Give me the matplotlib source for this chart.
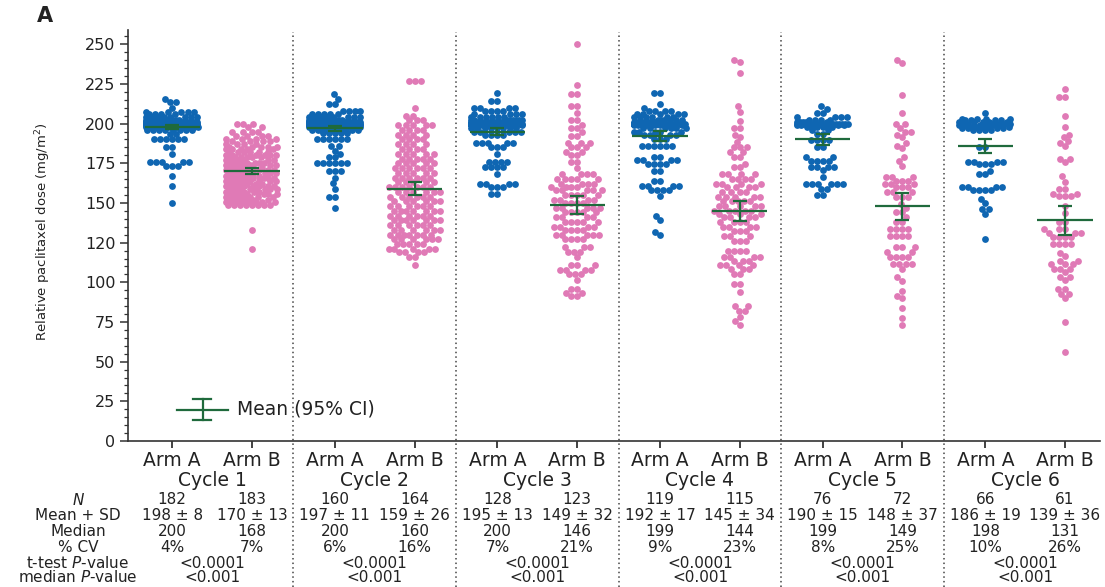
import numpy as np
import matplotlib
matplotlib.use("Agg")
import matplotlib.pyplot as plt
from matplotlib.ticker import MultipleLocator, FixedLocator
from matplotlib.transforms import blended_transform_factory

plt.rcParams['font.family'] = ['DejaVu Sans']
plt.rcParams['mathtext.fontset'] = 'dejavusans'

# relative paclitaxel dose per patient, stored as (dose mg/m2, number of patients)
cycle1_arm_a = [(150, 1), (161, 1), (167, 1), (173.5, 3), (176, 5), (181, 1), (185.5, 2), (190, 6),
                (193.5, 2), (196, 8), (198, 15), (199, 20), (200, 64), (201, 20), (202, 12), (204, 8),
                (206, 4), (207.5, 5), (210, 1), (213.5, 2), (215.5, 1)]
cycle1_arm_b = [(121, 1), (133, 1),
                (149, 8), (150.5, 8), (152, 6), (154, 7), (155.5, 7), (157, 6),
                (159, 8), (160.5, 8), (162, 6), (164, 8), (165.5, 8), (167, 6),
                (169, 8), (170.5, 8), (172, 6), (174, 7), (175.5, 7), (177, 6),
                (179, 6), (180.5, 6), (182, 6), (184, 5), (185.5, 5), (187, 4),
                (189, 4), (190.5, 4), (192, 4), (195, 4), (198, 2), (200, 3)]
cycle2_arm_a = [(147, 1), (153.5, 2), (159, 1), (162.5, 1), (166, 1), (170, 3), (175, 6), (179, 2),
                (181, 1), (183, 1), (186, 2), (190, 6), (194, 5), (196, 10), (198, 15), (199, 20),
                (200, 30), (201, 20), (202, 12), (204, 8), (206, 5), (208, 4), (212.5, 2),
                (215.7, 1), (218.4, 1)]
cycle2_arm_b = [(111, 1), (116, 2), (119, 4), (121, 5), (124, 5), (127, 6), (130, 7), (133, 6),
                (136, 6), (139, 7), (142, 6), (145, 7), (148, 6), (151, 6), (154, 6), (157, 6),
                (160, 7), (163, 5), (166, 6), (169, 5), (172, 6), (175, 5), (178, 5), (181, 5),
                (184, 4), (187, 4), (190, 4), (193, 4), (196, 4), (199, 5), (202, 3), (205, 2),
                (210, 1), (227, 3)]
cycle3_arm_a = [(155.5, 2), (160, 3), (162, 4), (168, 1), (172.5, 4), (176, 4), (181, 1), (185, 3),
                (188, 5), (193, 4), (195, 5), (197, 8), (199, 12), (200, 31), (201, 12), (202, 8),
                (204, 6), (206, 4), (208, 4), (210, 4), (214, 2), (219, 1)]
cycle3_arm_b = [(91.5, 2), (93.5, 2), (95.7, 2), (101.4, 1), (105, 3), (108, 4), (111, 3), (115.7, 1),
                (119, 3), (122, 3), (127, 4), (130, 5), (133, 4), (135, 4), (138, 5), (141, 4),
                (144, 5), (147, 5), (150, 4), (152, 4), (155, 5), (158, 5), (160, 4), (162, 4),
                (165, 5), (168, 4), (172, 1), (176, 2), (180, 2), (182, 2), (185, 3), (188, 3),
                (192.5, 2), (195, 1), (197, 2), (199, 1), (202, 2), (206.6, 1), (210.8, 2),
                (218.8, 2), (224.5, 1), (250, 1)]
cycle4_arm_a = [(130, 1), (131.5, 1), (139.5, 1), (142, 1), (154.6, 1), (158, 4), (161, 4),
                (163.7, 2), (170.4, 2), (174.6, 4), (177, 4), (179, 2), (185.6, 6), (190, 3),
                (193, 4), (195, 5), (197, 6), (199, 8), (200, 27), (201, 8), (202, 6), (204, 6),
                (206, 5), (208, 4), (209.8, 1), (212.1, 1), (219.2, 2)]
cycle4_arm_b = [(73.2, 1), (75.7, 1), (78.3, 1), (82, 2), (85, 2), (93.6, 1), (98.9, 2), (105.2, 2),
                (108.4, 3), (111, 4), (113.6, 3), (116, 4), (120, 4), (126.2, 3), (129, 3),
                (132.6, 3), (135, 4), (138, 4), (141, 4), (143, 3), (145, 5), (148, 5), (151.5, 5),
                (154, 5), (157, 4), (160, 4), (162, 4), (165, 4), (168, 4), (172.5, 2), (174.6, 1),
                (179, 2), (182, 2), (185, 3), (188.3, 1), (191.5, 1), (193, 1), (197.4, 2),
                (201.5, 1), (207.2, 1), (210.8, 1), (231.9, 1), (238.8, 1), (240.3, 1)]
cycle5_arm_a = [(155.1, 2), (158.8, 2), (162, 6), (166.6, 1), (170.8, 1), (172.5, 4), (176.7, 4),
                (179.2, 2), (185, 2), (189.4, 4), (193.6, 2), (195.7, 2), (198, 4), (199, 6),
                (200, 17), (201, 5), (202, 4), (204, 4), (206.6, 2), (209.3, 1), (210.8, 1)]
cycle5_arm_b = [(73.2, 1), (77.8, 1), (84.1, 1), (89.8, 1), (91.5, 1), (94.7, 1), (101, 1), (103.1, 1),
                (108.3, 1), (111.5, 4), (115.7, 4), (118.9, 2), (122, 3), (129.4, 4), (133.6, 4),
                (137.8, 2), (141, 1), (144, 2), (147, 1), (149.4, 1), (153.6, 3), (156.7, 3),
                (160, 3), (162, 3), (164, 3), (166.6, 3), (173.6, 1), (176.7, 1), (178.8, 1),
                (184.7, 1), (186, 1), (187.9, 1), (191.5, 1), (193, 1), (195, 2), (197.4, 1),
                (199.9, 2), (206.6, 1), (217.8, 1), (238.2, 1), (240.3, 1)]
cycle6_arm_a = [(127.3, 1), (143.1, 1), (146.2, 2), (149.8, 1), (152.5, 1), (158.2, 4), (160.3, 4),
                (168.3, 2), (170.4, 1), (174.6, 3), (176, 4), (185, 2), (195.7, 4), (197, 4),
                (198, 6), (199, 5), (200, 7), (201, 5), (202, 4), (203, 4), (206.6, 1)]
cycle6_arm_b = [(56.4, 1), (75.1, 1), (89.8, 1), (92.6, 2), (95.7, 2), (101.4, 1), (103.1, 2),
                (106.2, 1), (108.4, 3), (111.5, 3), (113.6, 2), (116.7, 1), (118.2, 1), (124.1, 4),
                (128.3, 4), (131, 3), (133.6, 3), (137.8, 2), (143.5, 1), (148.3, 1), (154.6, 3),
                (155.7, 2), (158.8, 2), (163.5, 1), (166.8, 1), (175.7, 1), (177.8, 2), (185.8, 1),
                (188, 1), (189, 1), (191.5, 1), (193, 1), (197.8, 1), (205.1, 1), (216.7, 2), (222, 1)]

arm_a_doses = [cycle1_arm_a, cycle2_arm_a, cycle3_arm_a, cycle4_arm_a, cycle5_arm_a, cycle6_arm_a]
arm_b_doses = [cycle1_arm_b, cycle2_arm_b, cycle3_arm_b, cycle4_arm_b, cycle5_arm_b, cycle6_arm_b]

cycles = ['Cycle 1', 'Cycle 2', 'Cycle 3', 'Cycle 4', 'Cycle 5', 'Cycle 6']
arms = ['Arm A', 'Arm B']

# summary statistics per cycle
arm_a_n = [182, 160, 128, 119, 76, 66]
arm_b_n = [183, 164, 123, 115, 72, 61]
arm_a_mean = [198, 197, 195, 192, 190, 186]
arm_b_mean = [170, 159, 149, 145, 148, 139]
arm_a_sd = [8, 11, 13, 17, 15, 19]
arm_b_sd = [13, 26, 32, 34, 37, 36]
arm_a_median = [200, 200, 200, 199, 199, 198]
arm_b_median = [168, 160, 146, 144, 149, 131]
arm_a_cv = [4, 6, 7, 9, 8, 10]
arm_b_cv = [7, 16, 21, 23, 25, 26]
ttest_p = ['<0.0001'] * 6
median_p = ['<0.001'] * 6

blue = '#0f66b2'
pink = '#e07ab6'
green = '#1f6a3c'
ink = '#222222'

W, H = 1105, 587
fig = plt.figure(figsize=(W / 100, H / 100), dpi=100)
ax = fig.add_axes([128 / W, (H - 441) / H, 972 / W, 411 / H])
ax.set_xlim(-0.517, 5.46)
ax.set_ylim(0, 259)

offset = 0.245
xa = np.arange(6) - offset
xb = np.arange(6) + offset


def swarm(y_px, d=6.0, wmax=26.0):
    # beeswarm offsets in pixels; once a band is full the extra dots go where they overlap least
    order = np.argsort(y_px, kind='stable')
    xs = np.zeros(len(y_px))
    grid = np.arange(-wmax, wmax + 0.01, d / 2)
    px = np.empty(0)
    py = np.empty(0)
    for i in order:
        yi = y_px[i]
        m = np.abs(py - yi) < d
        nx, ny = px[m], py[m]
        dx = np.sqrt(d ** 2 - (ny - yi) ** 2)
        cands = np.concatenate([[0.0], nx - dx, nx + dx])
        cands = cands[np.argsort(np.abs(cands), kind='stable')]
        pick = None
        for c in cands:
            if abs(c) > wmax:
                break
            if np.all((nx - c) ** 2 + (ny - yi) ** 2 >= d ** 2 - 1e-6):
                pick = c
                break
        if pick is None:
            dist = np.min(np.hypot(grid[:, None] - nx[None, :], yi - ny[None, :]), axis=1)
            pick = grid[np.argmax(dist)]
        xs[i] = pick
        px = np.append(px, pick)
        py = np.append(py, yi)
    return xs


x_scale = ax.transData.transform([[1, 0]])[0, 0] - ax.transData.transform([[0, 0]])[0, 0]
y_scale = ax.transData.transform([[0, 1]])[0, 1] - ax.transData.transform([[0, 0]])[0, 1]


def draw_group(x, readings, color):
    vals = np.repeat([v for v, _ in readings], [k for _, k in readings]).astype(float)
    dx = swarm(vals * y_scale)
    ax.scatter(x + dx / x_scale, vals, s=24, color=color, linewidths=0, zorder=2)


for i in range(6):
    draw_group(xa[i], arm_a_doses[i], blue)
    draw_group(xb[i], arm_b_doses[i], pink)

# mean with 95% confidence interval
for x, means, sds, ns in [(xa, arm_a_mean, arm_a_sd, arm_a_n), (xb, arm_b_mean, arm_b_sd, arm_b_n)]:
    means = np.array(means, float)
    ci = 1.96 * np.array(sds) / np.sqrt(ns)
    ax.hlines(means, x - 0.17, x + 0.17, color=green, lw=1.6, zorder=3)
    ax.errorbar(x, means, yerr=ci, fmt='none', ecolor=green, elinewidth=1.6,
                capsize=5, capthick=1.6, zorder=3)

# axes styling
for s in ['top', 'right']:
    ax.spines[s].set_visible(False)
for s in ['left', 'bottom']:
    ax.spines[s].set_color('#333333')
    ax.spines[s].set_linewidth(1.2)
ax.yaxis.set_major_locator(FixedLocator(np.arange(0, 251, 25)))
ax.set_yticklabels(['0', '25', '50', '75', '100', '120', '150', '175', '200', '225', '250'])
ax.yaxis.set_minor_locator(MultipleLocator(5))
ax.tick_params(axis='y', which='major', length=6, width=1.1, labelsize=11.5, colors='#333333',
               labelcolor=ink, pad=3)
ax.tick_params(axis='y', which='minor', length=3, width=0.9, colors='#333333')
ax.set_xticks(np.concatenate([xa, xb]))
ax.set_xticklabels([])
ax.tick_params(axis='x', length=5, width=1.3, colors='#333333')

# dotted separators between cycles, running down through the table
sep_tr = blended_transform_factory(ax.transData, fig.transFigure)
for c in range(5):
    ax.plot([c + 0.5, c + 0.5], [0.0, (H - 32) / H], transform=sep_tr, clip_on=False,
            color='#444444', lw=1.1, ls=(0, (1, 2)), zorder=1)

# legend key
ax.plot([0.0504, 0.1029], [0.0754, 0.0754], transform=ax.transAxes, color=green, lw=1.6)
ax.plot([0.0772, 0.0772], [0.051, 0.102], transform=ax.transAxes, color=green, lw=1.6)
ax.plot([0.0669, 0.0854], [0.102, 0.102], transform=ax.transAxes, color=green, lw=1.6)
ax.plot([0.0669, 0.0854], [0.051, 0.051], transform=ax.transAxes, color=green, lw=1.6)
ax.text(0.112, 0.078, 'Mean (95% CI)', transform=ax.transAxes, ha='left', va='center',
        fontsize=13.5, color=ink)


def row(py):
    return 1 - py / H


# arm and cycle labels, then the summary table
for i in range(6):
    for x, lab in [(xa[i], arms[0]), (xb[i], arms[1])]:
        ax.text(x, row(461), lab, transform=sep_tr, ha='center', va='center', fontsize=13.5, color=ink)
    ax.text(i, row(480), cycles[i], transform=sep_tr, ha='center', va='center', fontsize=13.5, color=ink)

row_labels = [r'$N$', 'Mean + SD', 'Median', '% CV', r't-test $P$-value', r'median $P$-value']
row_y = [500, 516, 531, 547, 563, 577]
for lab, py in zip(row_labels, row_y):
    fig.text(78 / W, row(py), lab, ha='center', va='center', fontsize=11, color=ink)

tfs = 11
for i in range(6):
    cols = [(xa[i], arm_a_n[i], arm_a_mean[i], arm_a_sd[i], arm_a_median[i], arm_a_cv[i]),
            (xb[i], arm_b_n[i], arm_b_mean[i], arm_b_sd[i], arm_b_median[i], arm_b_cv[i])]
    for x, n, m, sd, med, cv in cols:
        for txt, py in zip([str(n), f'{m} \u00b1 {sd}', str(med), f'{cv}%'], row_y[:4]):
            ax.text(x, row(py), txt, transform=sep_tr, ha='center', va='center', fontsize=tfs, color=ink)
    ax.text(i, row(row_y[4]), ttest_p[i], transform=sep_tr, ha='center', va='center', fontsize=tfs, color=ink)
    ax.text(i, row(row_y[5]), median_p[i], transform=sep_tr, ha='center', va='center', fontsize=tfs, color=ink)

fig.text(43 / W, row(232), r'Relative paclitaxel dose (mg/m$^2$)', rotation=90, ha='center',
         va='center', fontsize=9.5, color=ink)
fig.text(37 / W, row(16), 'A', ha='left', va='center', fontsize=15, fontweight='bold', color=ink)

fig.savefig('out.png', dpi=100)
